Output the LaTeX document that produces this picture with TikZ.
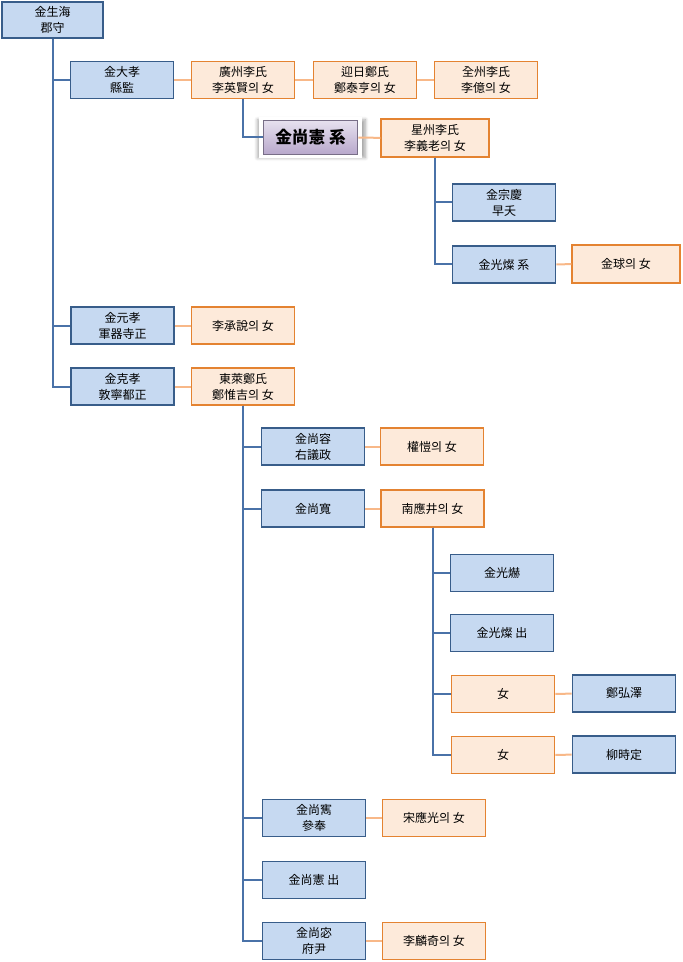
\documentclass[tikz,border=0pt]{standalone}
\usepackage{fontspec}
\setmainfont{Noto Sans CJK KR}
\usetikzlibrary{shadows.blur}

\definecolor{bluefill}{RGB}{198,217,241}
\definecolor{blueedge}{RGB}{56,93,138}
\definecolor{orangefill}{RGB}{253,234,218}
\definecolor{orangeedge}{RGB}{228,131,49}
\definecolor{blueline}{RGB}{74,114,168}
\definecolor{orangeline}{RGB}{248,184,136}
\definecolor{lilactop}{RGB}{230,224,238}
\definecolor{lilacbot}{RGB}{184,168,204}
\definecolor{lilacedge}{RGB}{120,110,135}

\tikzset{
  mbox/.style={draw=blueedge, fill=bluefill, line width=1.05pt, minimum width=77.5pt, minimum height=27.75pt, inner sep=0pt, align=center, font=\fontsize{9}{12}\selectfont},
  wbox/.style={mbox, draw=orangeedge, fill=orangefill},
  heir/.style={draw=lilacedge, line width=0.9pt, top color=lilactop, bottom color=lilacbot, minimum width=71pt, minimum height=25pt, inner sep=0pt, font=\fontsize{12.5}{14}\selectfont\bfseries,
    blur shadow={shadow xshift=0.6pt, shadow yshift=-0.8pt, shadow scale=1.14, shadow blur steps=6, shadow opacity=35},
    preaction={draw=white, line width=6pt}},
  kin/.style={draw=blueline, line width=1.5pt},
  wed/.style={draw=orangeline, line width=1.5pt},
}

\begin{document}
\begin{tikzpicture}[x=0.75pt,y=0.75pt,yscale=-1,xscale=1]
\useasboundingbox (0,0) rectangle (682,962);

% first generation
\node [mbox, minimum width=75.75pt, minimum height=27pt] (saenghae) at (52.5,20) {金生海\\郡守};

% sons
\node [mbox] (daehyo) at (122,80) {金大孝\\縣監};
\node [mbox] (wonhyo) at (122.5,325.5) {金元孝\\軍器寺正};
\node [mbox] (geukhyo) at (122.5,386.5) {金克孝\\敦寧都正};

% wives of 金大孝
\node [wbox] (gwangju) at (243,80) {廣州李氏\\李英賢의 女};
\node [wbox] (yeongil) at (365,80) {迎日鄭氏\\鄭泰亨의 女};
\node [wbox] (jeonju) at (486,80) {全州李氏\\李億의 女};

% adopted heir
\node [heir] (sanghun) at (310.5,137.5) {金尚憲 系};
\node [wbox, minimum width=81pt, minimum height=28.5pt] (seongju) at (435,138) {星州李氏\\李義老의 女};
\node [mbox] (jonggyeong) at (504,202.5) {金宗慶\\早夭};
\node [mbox] (gwangchan) at (504,264.5) {金光燦 系};
\node [wbox, minimum width=81pt, minimum height=28.5pt] (gugu) at (626,264) {金球의 女};

% wives of 金元孝, 金克孝
\node [wbox] (seungyeol) at (243,325.5) {李承說의 女};
\node [wbox] (dongnae) at (243,386.5) {東萊鄭氏\\鄭惟吉의 女};

% sons of 金克孝
\node [mbox] (sangyong) at (313,446.5) {金尚容\\右議政};
\node [wbox] (gwongae) at (432,446.5) {權愷의 女};
\node [mbox] (sanggwan) at (313,508.5) {金尚寬};
\node [wbox] (namungjeong) at (432.5,508.5) {南應井의 女};
\node [mbox] (sangjun) at (314,818) {金尚寯\\參奉};
\node [wbox] (songeunggwang) at (434,818) {宋應光의 女};
\node [mbox] (sanghunout) at (314,880) {金尚憲 出};
\node [mbox] (sangmil) at (314,941) {金尚宓\\府尹};
\node [wbox] (irinki) at (434,941) {李麟奇의 女};

% children of 金尚寬
\node [mbox] (gwanghyeok) at (502,573) {金光爀};
\node [mbox] (gwangchanout) at (502,633) {金光燦 出};
\node [wbox] (dau1) at (503,694) {女};
\node [mbox] (hongtaek) at (624,693.5) {鄭弘澤};
\node [wbox] (dau2) at (503,755) {女};
\node [mbox] (sijeong) at (624,754.5) {柳時定};

% descent lines
\foreach \kid in {daehyo,wonhyo,geukhyo}
  \draw [kin] (saenghae.south) |- (\kid.west);
\draw [kin] (gwangju.south) |- (sanghun.west);
\foreach \kid in {jonggyeong,gwangchan}
  \draw [kin] (seongju.south) |- (\kid.west);
\foreach \kid in {sangyong,sanggwan,sangjun,sanghunout,sangmil}
  \draw [kin] (dongnae.south) |- (\kid.west);
\foreach \kid in {gwanghyeok,gwangchanout,dau1,dau2}
  \draw [kin] (namungjeong.south) |- (\kid.west);

% marriage lines
\draw [wed] (daehyo) -- (gwangju);
\draw [wed] (gwangju) -- (yeongil);
\draw [wed] (yeongil) -- (jeonju);
\draw [wed] (sanghun) -- (seongju);
\draw [wed] (gwangchan) -- (gugu);
\draw [wed] (wonhyo) -- (seungyeol);
\draw [wed] (geukhyo) -- (dongnae);
\draw [wed] (sangyong) -- (gwongae);
\draw [wed] (sanggwan) -- (namungjeong);
\draw [wed] (sangjun) -- (songeunggwang);
\draw [wed] (sangmil) -- (irinki);
\draw [wed] (dau1) -- (hongtaek);
\draw [wed] (dau2) -- (sijeong);

\end{tikzpicture}
\end{document}
